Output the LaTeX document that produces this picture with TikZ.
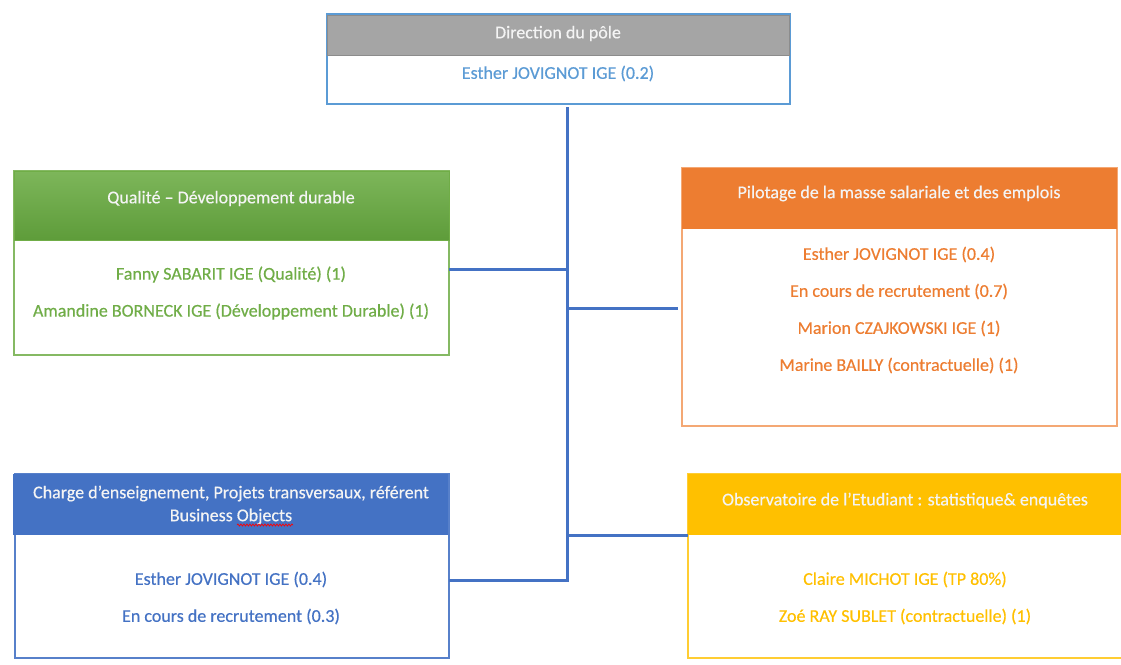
\documentclass[tikz,border=0pt]{standalone}
\usepackage{fontspec}
\setmainfont{Carlito}[FakeBold=0.4]
\usetikzlibrary{decorations.pathmorphing}
\definecolor{cgray}{HTML}{A5A5A5}
\definecolor{ltblue}{HTML}{5B9BD5}
\definecolor{cgreen}{HTML}{70AD47}
\definecolor{cgreenlt}{HTML}{7DB65A}
\definecolor{cgreendk}{HTML}{5E9C3A}
\definecolor{corange}{HTML}{ED7D31}
\definecolor{corangelt}{HTML}{F4A874}
\definecolor{cblue}{HTML}{4472C4}
\definecolor{cyellow}{HTML}{FFC000}
\definecolor{hdtext}{HTML}{F4F4F4}
\tikzset{
  box/.style={rectangle, anchor=north west, inner sep=0pt, outer sep=0pt, line width=1.2pt},
  hdr/.style={text=hdtext, font=\fontsize{18}{22}\selectfont, inner sep=0pt, yshift=-1.5pt},
  bodytxt/.style={font=\fontsize{18}{22}\selectfont, inner sep=0pt, yshift=-1.5pt},
  conn/.style={draw=cblue, line width=3pt},
}
\begin{document}
\begin{tikzpicture}[x=1pt,y=-1pt]
\useasboundingbox (0,0) rectangle (1121,664);
% top box
\node[box, fill=white, draw=ltblue, minimum width=463pt, minimum height=90pt] (topbox) at (327,14) {};
\node[box, fill=cgray, draw=cgray!85!black, line width=0.6pt, minimum width=462pt, minimum height=40pt] (tophdr) at (327.6,15) {};
\node[hdr] (toptitle) at (558,32) {Direction du pôle};
\node[bodytxt, text=ltblue] (topt1) at (558,72) {Esther JOVIGNOT IGE (0.2)};
% green box
\node[box, fill=white, draw=cgreen!85, minimum width=435pt, minimum height=184pt] (gbody) at (14,171) {};
\node[box, top color=cgreenlt, bottom color=cgreendk, draw=cgreen, line width=0.6pt, minimum width=435pt, minimum height=69pt] (ghdr) at (14,171) {};
\node[hdr] (gtitle) at (231,197) {Qualité – Développement durable};
\node[bodytxt, text=cgreen] (gt1) at (231,273) {Fanny SABARIT IGE (Qualité) (1)};
\node[bodytxt, text=cgreen] (gt2) at (231,310) {Amandine BORNECK IGE (Développement Durable) (1)};
% orange box
\node[box, fill=white, draw=corangelt, minimum width=435pt, minimum height=258pt] (obody) at (682,168) {};
\node[box, fill=corange, minimum width=435pt, minimum height=61pt] (ohdr) at (682,168) {};
\node[hdr] (otitle) at (899,192) {Pilotage de la masse salariale et des emplois};
\node[bodytxt, text=corange] (ot1) at (899,253) {Esther JOVIGNOT IGE (0.4)};
\node[bodytxt, text=corange] (ot2) at (899,290) {En cours de recrutement (0.7)};
\node[bodytxt, text=corange] (ot3) at (899,327) {Marion CZAJKOWSKI IGE (1)};
\node[bodytxt, text=corange] (ot4) at (899,364) {Marine BAILLY (contractuelle) (1)};
% blue box
\node[box, fill=white, draw=cblue!90, minimum width=434pt, minimum height=184pt] (bbody) at (15,474) {};
\node[box, fill=cblue, minimum width=435pt, minimum height=61pt] (bhdr) at (13,474) {};
\node[hdr] (btitle1) at (231,492) {Charge d’enseignement, Projets transversaux, référent};
\node[hdr] (btitle2) at (231,515) {Business Objects};
\draw[red, line width=0.7pt, decorate, decoration={snake, amplitude=1pt, segment length=3pt}] (237,525) -- (293,525);
\node[bodytxt, text=cblue] (bt1) at (231,578) {Esther JOVIGNOT IGE (0.4)};
\node[bodytxt, text=cblue] (bt2) at (231,615) {En cours de recrutement (0.3)};
% yellow box
\node[box, fill=white, draw=cyellow!80, minimum width=436pt, minimum height=184pt] (ybody) at (688,474) {};
\node[box, fill=cyellow, minimum width=436pt, minimum height=61pt] (yhdr) at (688,474) {};
\node[hdr] (ytitle) at (905,499) {Observatoire de l’Etudiant : statistique\& enquêtes};
\node[bodytxt, text=cyellow] (yt1) at (905,578) {Claire MICHOT IGE (TP 80\%)};
\node[bodytxt, text=cyellow] (yt2) at (905,615) {Zoé RAY SUBLET (contractuelle) (1)};
% connectors
\coordinate (ttop) at (567,107);
\coordinate (tbot) at (567,580);
\coordinate (tg) at (567,269);
\coordinate (to) at (567,308);
\coordinate (ty) at (567,535);
\draw[conn] (ttop) -- (tbot) -- (bbody.east |- tbot);
\draw[conn] (tg) -- (gbody.east |- tg);
\draw[conn] (to) -- ([xshift=-4pt]obody.west |- to);
\draw[conn] (ty) -- (ybody.west |- ty);
\end{tikzpicture}
\end{document}
